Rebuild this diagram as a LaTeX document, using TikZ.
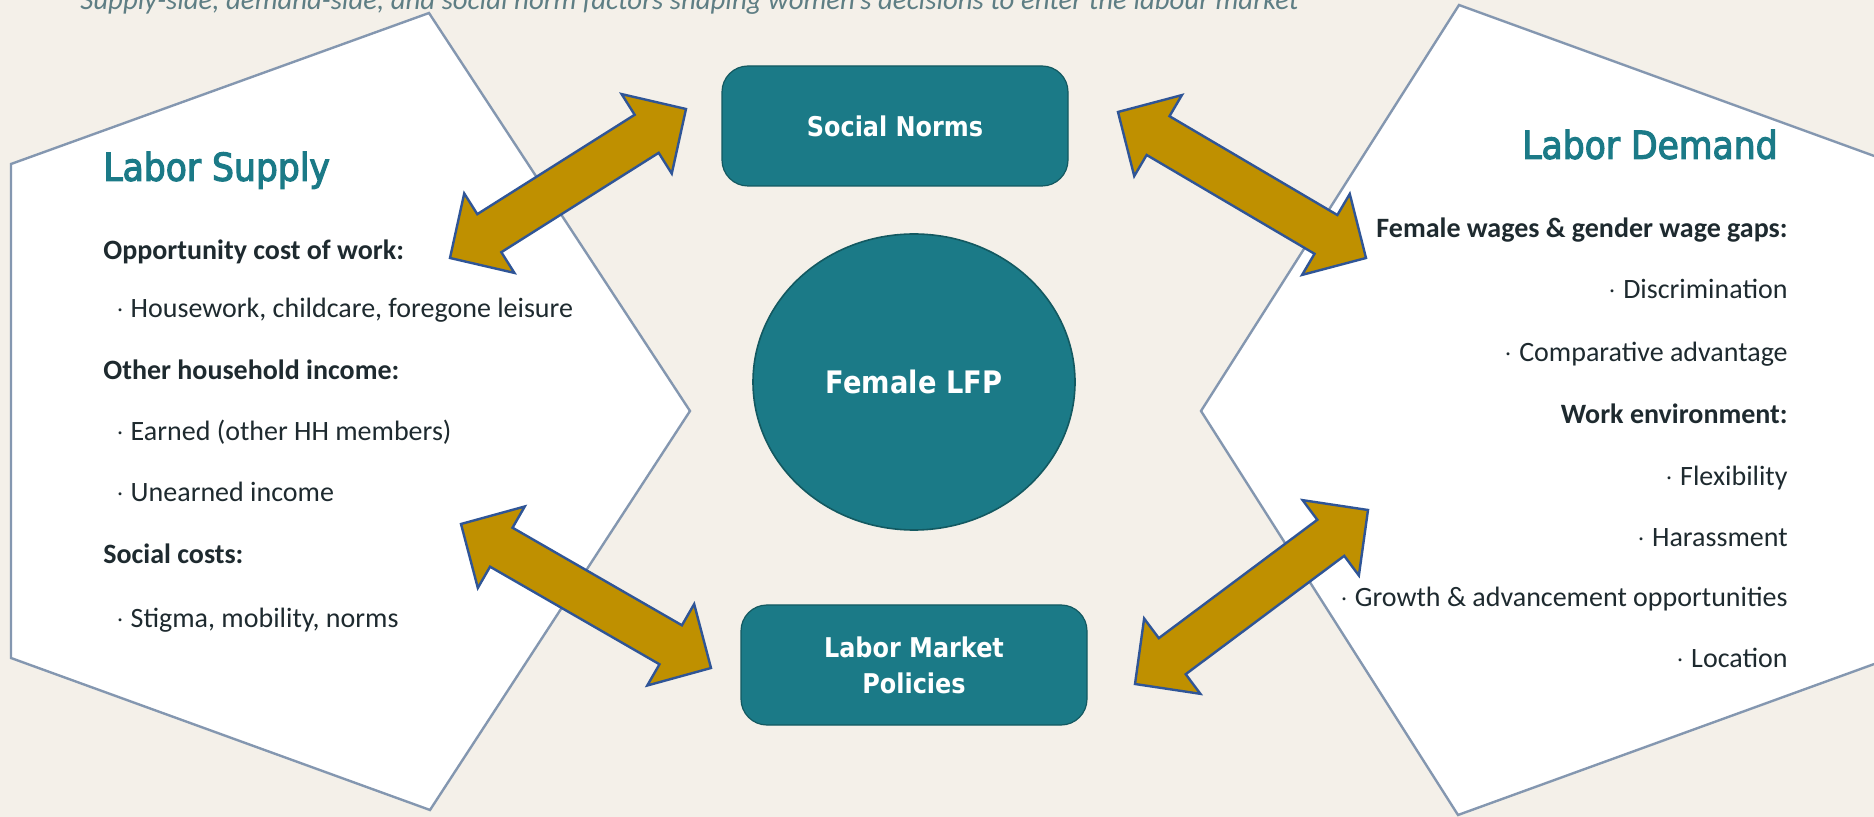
\documentclass[tikz,border=0pt]{standalone}
\usepackage{fontspec}
\setmainfont{Carlito}
\newfontfamily\headfont{DejaVu Sans}[FakeStretch=0.88]
\newfontfamily\titlefont{DejaVu Sans}[FakeStretch=0.9,FakeBold=3]
\usetikzlibrary{calc,shapes.geometric}

\definecolor{paper}{HTML}{F4F0E9}
\definecolor{panelline}{HTML}{8497B0}
\definecolor{lfpteal}{HTML}{1B7A87}
\definecolor{tealdark}{HTML}{135961}
\definecolor{bodytext}{HTML}{1E2A2F}
\definecolor{gold}{HTML}{BF9000}
\definecolor{goldline}{HTML}{2F5597}
\definecolor{captiongray}{HTML}{5E7E84}

% double-headed block arrow between two tips
\newcommand{\twoway}[2]{%
  \draw[blockarrow]
    ($(#1)!23.25pt!(#2)!23.5pt!90:(#2)$) -- (#1)
    -- ($(#1)!23.25pt!(#2)!23.5pt!-90:(#2)$)
    -- ($(#1)!23.25pt!(#2)!11.25pt!-90:(#2)$)
    -- ($(#2)!23.25pt!(#1)!11.25pt!90:(#1)$)
    -- ($(#2)!23.25pt!(#1)!23.5pt!90:(#1)$) -- (#2)
    -- ($(#2)!23.25pt!(#1)!23.5pt!-90:(#1)$)
    -- ($(#2)!23.25pt!(#1)!11.25pt!-90:(#1)$)
    -- ($(#1)!23.25pt!(#2)!11.25pt!90:(#2)$) -- cycle;}

\begin{document}
\begin{tikzpicture}[x=0.5pt,y=-0.5pt,
  every node/.style={inner sep=0pt},
  panel/.style={draw=panelline,line width=1.2pt,fill=white},
  blockarrow/.style={draw=goldline,fill=gold,line width=1.2pt,line join=miter},
  tealbox/.style={draw=tealdark,line width=0.6pt,fill=lfpteal,rounded corners=13pt,
    minimum width=173pt,minimum height=60pt,align=center,text=white,
    font=\headfont\bfseries\fontsize{13.6}{18}\selectfont},
  hub/.style={ellipse,draw=tealdark,line width=0.8pt,fill=lfpteal,
    minimum width=161pt,minimum height=148pt,text=white,
    font=\headfont\bfseries\fontsize{15.5}{18}\selectfont},
  heading/.style={text=lfpteal,font=\titlefont\fontsize{19.2}{22}\selectfont},
  topic/.style={text=bodytext,font=\bfseries\fontsize{14}{16}\selectfont},
  item/.style={text=bodytext,font=\fontsize{14}{16}\selectfont},
  caption/.style={text=captiongray,font=\itshape\fontsize{14.4}{16}\selectfont}
]
  \useasboundingbox (0,0) rectangle (1874,817);
  \fill[paper] (0,0) rectangle (1874,817);

  \node[caption,anchor=base west] (title) at (80,10)
    {Supply-side, demand-side, and social norm factors shaping women's decisions to enter the labour market};

  % the two side panels
  \draw[panel] (429,13) -- (690,411) -- (430,810) -- (11,658) -- (11,164) -- cycle;
  \draw[panel] (1459,5) -- (1201,411) -- (1458,815) -- (1877,663) -- (1877,157) -- cycle;

  % supply side
  \node[heading,anchor=mid west] (supply) at (103,176) {Labor Supply};
  \node[topic,anchor=mid west] (oppcost) at (103,255) {Opportunity cost of work:};
  \node[item,anchor=mid west] (house) at (116,313) {$\cdot$ Housework, childcare, foregone leisure};
  \node[topic,anchor=mid west] (hhinc) at (103,375) {Other household income:};
  \node[item,anchor=mid west] (earned) at (116,436) {$\cdot$ Earned (other HH members)};
  \node[item,anchor=mid west] (unearned) at (116,497) {$\cdot$ Unearned income};
  \node[topic,anchor=mid west] (soccost) at (103,559) {Social costs:};
  \node[item,anchor=mid west] (stigma) at (116,623) {$\cdot$ Stigma, mobility, norms};

  % demand side
  \node[heading,anchor=mid east] (demand) at (1778,154) {Labor Demand};
  \node[topic,anchor=mid east] (wages) at (1788,233) {Female wages \& gender wage gaps:};
  \node[item,anchor=mid east] (discr) at (1788,294) {$\cdot$ Discrimination};
  \node[item,anchor=mid east] (compadv) at (1788,357) {$\cdot$ Comparative advantage};
  \node[topic,anchor=mid east] (workenv) at (1788,419) {Work environment:};
  \node[item,anchor=mid east] (flex) at (1788,481) {$\cdot$ Flexibility};
  \node[item,anchor=mid east] (harass) at (1788,542) {$\cdot$ Harassment};
  \node[item,anchor=mid east] (growth) at (1788,602) {$\cdot$ Growth \& advancement opportunities};
  \node[item,anchor=mid east] (location) at (1788,663) {$\cdot$ Location};

  % centre
  \node[tealbox] (norms) at (895,126) {Social Norms};
  \node[hub] (lfp) at (914,382) {Female LFP};
  \node[tealbox] (policies) at (914,665) {Labor Market\\Policies};

  % arrow tips
  \coordinate (supply-n) at (450,258);
  \coordinate (norms-w) at (686,109);
  \coordinate (norms-e) at (1118,112);
  \coordinate (demand-n) at (1366,258);
  \coordinate (supply-s) at (461,524);
  \coordinate (policies-w) at (711,668);
  \coordinate (policies-e) at (1135,684);
  \coordinate (demand-s) at (1368,510);

  \twoway{supply-n}{norms-w}
  \twoway{norms-e}{demand-n}
  \twoway{supply-s}{policies-w}
  \twoway{policies-e}{demand-s}
\end{tikzpicture}
\end{document}
